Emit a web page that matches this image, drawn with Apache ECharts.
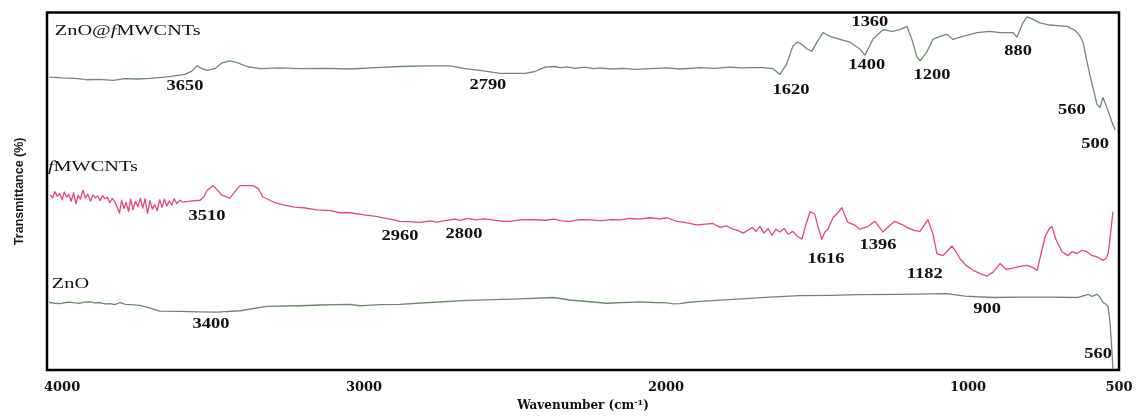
<!DOCTYPE html>
<html>
<head>
<meta charset="utf-8">
<script src="https://cdn.jsdelivr.net/npm/echarts@6/dist/echarts.min.js"></script>
<style>
  html, body { margin: 0; padding: 0; background: #fff; }
  #chart { width: 1138px; height: 417px; }
</style>
</head>
<body>
<div id="chart"></div>
<script>
// FTIR spectra: [wavenumber (cm-1), transmittance (offset, a.u.)]
const compositeSpectrum = [
  [4043,81.9],[4000,81.7],[3957,81.6],[3920,81.2],[3875,81.3],[3830,81.0],[3792,81.5],
  [3750,81.4],[3709,81.6],[3653,82.0],[3593,82.7],[3570,83.6],
  [3553,85.1],[3537,84.3],[3520,83.8],[3494,84.3],[3471,85.9],[3444,86.5],[3418,85.9],
  [3388,84.9],[3345,84.3],[3280,84.5],[3212,84.3],[3130,84.4],[3047,84.2],[2960,84.6],
  [2881,84.9],[2782,85.1],[2716,85.1],
  [2666,84.3],[2616,83.8],[2550,83.0],[2467,83.0],[2434,83.5],[2401,84.7],[2370,84.9],
  [2351,84.6],[2330,84.8],[2300,84.4],[2270,84.7],[2240,84.3],[2219,84.5],[2180,84.2],
  [2140,84.4],[2100,84.1],[2053,84.3],[2000,84.5],[1950,84.2],[1888,84.6],[1840,84.4],
  [1790,84.7],[1750,84.5],[1722,84.6],[1680,84.6],[1646,84.3],[1623,82.7],[1600,85.7],
  [1580,90.6],[1566,91.7],[1550,91.1],[1533,89.8],[1517,89.2],[1500,91.7],[1480,94.4],
  [1457,93.3],[1424,92.5],[1391,91.7],[1358,89.8],[1341,88.1],[1315,92.5],[1282,95.2],
  [1252,94.7],[1225,95.2],[1202,96.1],[1186,92.5],[1169,87.6],[1159,86.5],[1136,89.0],
  [1116,92.5],[1093,93.3],[1070,93.9],[1050,92.5],[1017,93.3],[970,94.4],[927,94.7],
  [894,94.4],[851,94.4],[838,93.1],[818,97.1],[805,98.8],[795,98.5],[762,97.1],
  [729,96.5],[672,96.1],[645,95.0],[630,93.5],[619,91.7],[608,87.0],[596,82.4],[573,74.3],[563,73.4],
  [553,76.2],[540,73.4],[523,69.3],[513,67.2]
];

const mwcntSpectrum = [
  [4040,49.0],[4031,48.2],[4024,49.9],[4016,48.6],[4008,49.4],[4000,47.6],[3993,49.8],
  [3985,48.4],[3978,49.1],[3970,47.2],[3962,49.6],[3954,46.5],[3947,48.9],[3939,47.8],
  [3931,50.3],[3923,48.1],[3915,49.2],[3906,47.3],[3898,49.0],[3890,48.2],[3882,48.7],
  [3874,47.4],[3866,48.8],[3858,47.9],[3850,48.3],[3842,46.8],[3834,48.0],[3826,47.2],
  [3818,45.6],[3810,43.9],[3803,47.5],[3795,45.2],[3788,46.9],[3780,44.3],[3773,47.8],
  [3765,44.9],[3757,47.2],[3749,45.7],[3741,48.1],[3733,45.3],[3725,47.9],[3717,43.8],
  [3709,47.4],[3701,45.0],[3693,46.2],[3685,44.6],[3677,47.6],[3669,45.5],[3661,47.8],
  [3653,45.9],[3645,47.3],[3637,46.1],[3629,47.9],[3620,46.6],[3610,47.5],[3600,47.0],
  [3570,47.3],[3543,47.5],[3530,48.5],[3520,50.2],[3500,51.6],[3484,50.2],
  [3471,48.9],[3444,48.1],[3427,50.0],[3411,51.6],[3368,51.6],[3351,50.8],[3335,48.4],
  [3300,47.0],[3269,46.2],[3230,45.6],[3200,45.4],[3156,44.8],[3110,44.6],[3080,44.0],
  [3047,44.0],[3000,43.4],[2960,43.0],[2937,42.6],[2900,42.0],[2881,41.6],[2850,41.5],
  [2815,41.3],[2780,41.7],[2760,41.4],[2732,41.8],[2700,42.2],[2680,41.9],
  [2659,42.4],[2630,42.0],[2600,42.3],[2583,42.1],[2550,41.7],[2517,41.6],[2480,42.0],
  [2441,42.1],[2400,41.9],[2370,42.2],[2351,41.8],[2320,41.6],[2285,42.1],[2250,42.0],
  [2219,41.8],[2180,42.1],[2150,42.0],
  [2120,42.4],[2090,42.2],[2053,42.6],[2020,42.3],[1997,42.6],[1964,41.6],[1930,41.2],
  [1900,40.6],[1888,40.7],[1860,40.9],[1845,41.0],[1821,39.9],[1800,40.3],
  [1778,39.4],[1760,39.0],[1745,38.3],[1729,39.1],[1715,39.9],[1702,38.8],[1689,40.2],
  [1676,38.3],[1662,39.6],[1649,37.7],[1636,39.4],[1623,38.6],[1609,39.6],[1596,38.0],
  [1580,38.8],[1566,37.5],[1550,36.6],[1537,40.7],[1523,44.3],[1507,43.5],[1497,40.2],
  [1484,36.6],[1474,38.6],[1464,39.4],[1447,42.6],[1431,44.0],[1418,45.4],[1398,41.3],
  [1378,40.7],[1358,39.4],[1331,40.2],[1308,41.6],[1282,38.6],[1262,40.2],[1242,41.6],
  [1219,40.7],[1202,39.9],[1179,39.1],[1159,38.8],[1133,42.1],[1116,38.0],[1103,32.6],
  [1083,32.0],[1066,33.5],[1053,34.7],[1040,33.1],[1027,31.2],[1007,29.3],[983,27.9],
  [960,27.0],[937,26.3],[917,27.4],[894,29.8],[874,28.2],[851,28.5],[828,29.0],
  [805,29.3],[788,28.8],[771,27.9],[758,32.6],[745,37.2],[732,39.4],[722,40.2],
  [709,36.6],[689,33.1],[669,32.0],[656,33.1],[639,32.6],[623,33.5],[606,33.1],
  [589,32.0],[573,31.7],[553,30.7],[543,31.2],[536,32.6],[530,36.6],[520,44.3]
];

const znoSpectrum = [
  [4043,18.9],[4025,18.7],[4007,18.6],[3990,18.9],[3974,19.0],[3958,18.8],[3941,18.7],
  [3925,19.0],[3908,19.1],[3890,18.8],[3875,18.9],[3858,18.5],[3841,18.6],[3825,18.3],
  [3808,18.9],[3790,18.4],[3775,18.3],[3742,18.1],[3709,17.3],[3676,16.5],[3610,16.4],
  [3543,16.3],[3487,16.2],[3411,16.6],[3322,17.8],[3212,18.0],[3146,18.2],[3047,18.4],
  [3013,18.0],[2990,18.1],[2947,18.3],[2881,18.4],[2782,18.9],[2659,19.5],[2484,19.9],
  [2374,20.3],[2318,19.6],[2196,18.7],[2086,19.1],[2040,18.9],[1997,18.8],[1975,18.5],
  [1954,18.6],[1930,18.9],[1888,19.2],[1778,19.8],[1656,20.4],[1557,20.8],[1457,20.9],
  [1358,21.1],[1225,21.2],[1070,21.4],[1010,20.7],[917,20.3],[828,20.4],[729,20.4],
  [639,20.3],[613,20.9],[603,21.2],[589,20.6],[573,21.2],[563,20.4],[553,18.9],
  [543,18.4],[536,17.6],[530,13.5],[526,8.9],[520,0.4]
];

// x-axis tick labels
const wavenumberTicks = [4000, 3000, 2000, 1000, 500];

// Sample names: [rich text, wavenumber, transmittance] (left-aligned)
const sampleNames = [
  ['{a|ZnO@}{i|f}{a|MWCNTs}', 4024, 94.7],
  ['{i|f}{a|MWCNTs}', 4047, 56.8],
  ['{a|ZnO}', 4034, 24.1]
];

// Band annotations: [text, wavenumber, transmittance] (centred)
const bandLabels = [
  ['3650', 3593, 79.2], ['2790', 2590, 79.7], ['1620', 1586, 78.3],
  ['1360', 1325, 97.1], ['1400', 1335, 85.1], ['1200', 1119, 82.4],
  ['880', 834, 89.0], ['560', 656, 72.6], ['500', 579, 63.1],
  ['3510', 3520, 42.9], ['2960', 2881, 37.5], ['2800', 2669, 38.0],
  ['1616', 1470, 30.9], ['1396', 1298, 35.0], ['1182', 1143, 26.8],
  ['3400', 3507, 12.7], ['900', 937, 17.0], ['560', 569, 4.5]
];

const chart = echarts.init(document.getElementById('chart'), null, { renderer: 'canvas' });

const lineSeries = (name, data, color) => ({
  name, type: 'line', data, symbol: 'none', smooth: false, silent: true,
  lineStyle: { color, width: 1.3, join: 'round' }
});

chart.setOption({
  animation: false,
  backgroundColor: '#fff',
  grid: {
    left: 47, right: 19, top: 12.5, bottom: 37.5,
    show: true, borderColor: '#000', borderWidth: 2.5, backgroundColor: 'transparent'
  },
  xAxis: {
    type: 'value', inverse: true, min: 500, max: 4050,
    name: '{t|Wavenumber (cm}{s|-1}{t|)}',
    nameLocation: 'middle', nameGap: 23,
    nameTextStyle: {
      rich: {
        t: { fontFamily: 'DejaVu Serif', fontWeight: 'bold', fontSize: 12, color: '#111' },
        s: { fontFamily: 'DejaVu Serif', fontWeight: 'bold', fontSize: 8, color: '#111', verticalAlign: 'top', padding: [0, 0, 6, 0] }
      }
    },
    axisLine: { show: false }, axisTick: { show: false }, splitLine: { show: false },
    axisLabel: {
      customValues: wavenumberTicks, margin: 11,
      formatter: (v) => String(v),
      fontFamily: 'DejaVu Serif', fontWeight: 'bold', fontSize: 13, color: '#111'
    }
  },
  yAxis: {
    type: 'value', min: 0, max: 100,
    name: 'Transmittance (%)', nameLocation: 'middle', nameGap: 21, nameRotate: 90,
    nameTextStyle: {
      fontFamily: 'Liberation Sans Narrow, Liberation Sans, sans-serif',
      fontWeight: 'bold', fontSize: 12.5, color: '#1a1a1a'
    },
    axisLine: { show: false }, axisTick: { show: false }, axisLabel: { show: false }, splitLine: { show: false }
  },
  series: [
    lineSeries('ZnO@fMWCNTs', compositeSpectrum, '#6f8c6f'),
    lineSeries('fMWCNTs', mwcntSpectrum, '#e8447f'),
    lineSeries('ZnO', znoSpectrum, '#6a8a68')
  ]
});

// Place the text annotations in data coordinates
const textFont = { fontFamily: 'Liberation Serif', fontSize: 14, fill: '#111' };
const graphics = [];
sampleNames.forEach(([text, w, t]) => {
  const [px, py] = chart.convertToPixel({ gridIndex: 0 }, [w, t]);
  graphics.push({
    type: 'text', x: px, y: py, scaleX: 1.45, silent: true,
    style: {
      text, align: 'left', verticalAlign: 'middle',
      rich: {
        a: Object.assign({}, textFont),
        i: Object.assign({}, textFont, { fontStyle: 'italic' })
      }
    }
  });
});
bandLabels.forEach(([text, w, t]) => {
  const [px, py] = chart.convertToPixel({ gridIndex: 0 }, [w, t]);
  graphics.push({
    type: 'text', x: px, y: py, scaleX: 1.32, silent: true,
    style: {
      text, align: 'center', verticalAlign: 'middle',
      font: 'bold 14px "Liberation Serif"', fill: '#111'
    }
  });
});
chart.setOption({ graphic: graphics });
</script>
</body>
</html>
